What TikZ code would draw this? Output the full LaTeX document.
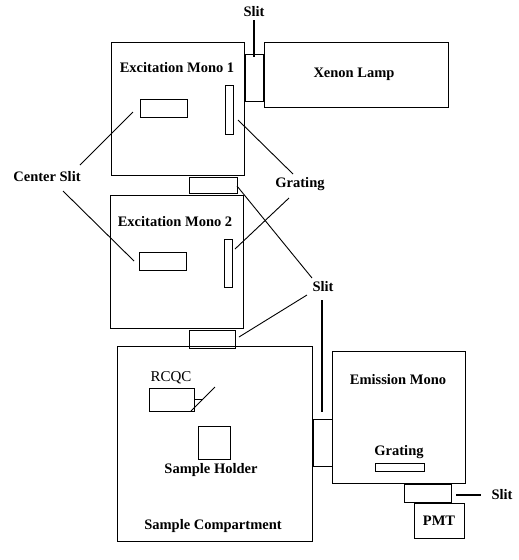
\documentclass[tikz,border=0pt]{standalone}
\usepackage{fontspec}
\setmainfont{Liberation Serif}
\begin{document}
\begin{tikzpicture}[x=1pt,y=-1pt,
                    box/.style={draw,rectangle,inner sep=0pt,line width=0.9pt},
                    lbl/.style={font=\bfseries\fontsize{14.5}{16}\selectfont,inner sep=0pt},
                    lead/.style={line width=0.9pt},
                    heavy lead/.style={line width=1.8pt}]
  \fill[white] (0,0) rectangle (519,560);
  \useasboundingbox (0,0) rectangle (519,560);
  %excitation side%
  \node[box,minimum width=133,minimum height=133] (mono1) at (177.5,108.5) {};
  \node[box,minimum width=184,minimum height=65] (lamp) at (356,74.5) {};
  \node[box,minimum width=18,minimum height=47] (slitA) at (254,77.5) {};
  \node[box,minimum width=47,minimum height=18] (cs1) at (163.5,108) {};
  \node[box,minimum width=8,minimum height=49] (gr1) at (229,109.5) {};
  \node[box,minimum width=48,minimum height=16] (slitB) at (213,185) {};
  \node[box,minimum width=133,minimum height=133] (mono2) at (176.5,261.5) {};
  \node[box,minimum width=47,minimum height=18] (cs2) at (162.5,261) {};
  \node[box,minimum width=8,minimum height=48] (gr2) at (228,263) {};
  \node[box,minimum width=46,minimum height=18] (slitC) at (212,339) {};
  %sample and emission side%
  \node[box,minimum width=195,minimum height=195] (sample) at (214.5,443.5) {};
  \node[box,minimum width=45,minimum height=23] (rcqc) at (171.5,399.5) {};
  \node[box,minimum width=32,minimum height=33] (holder) at (214,442.5) {};
  \node[box,minimum width=19,minimum height=47] (slitD) at (322.5,442.5) {};
  \node[box,minimum width=133,minimum height=132] (emis) at (398.5,417) {};
  \node[box,minimum width=49,minimum height=8] (gr3) at (399.5,467) {};
  \node[box,minimum width=47,minimum height=18] (slitE) at (427.5,493) {};
  \node[box,lbl,minimum width=50,minimum height=35] (pmt) at (439,520.5) {PMT};

  %labels%
  \node[lbl] (t1) at (254,12) {Slit};
  \node[lbl] (t2) at (177,68) {Excitation Mono 1};
  \node[lbl] (t3) at (354,74) {Xenon Lamp};
  \node[lbl] (t4) at (47,177) {Center Slit};
  \node[lbl] (t5) at (300,184) {Grating};
  \node[lbl] (t6) at (175,222) {Excitation Mono 2};
  \node[lbl] (t7) at (323,287) {Slit};
  \node[inner sep=0pt,font=\fontsize{15}{16}\selectfont] (t8) at (171,378) {RCQC};
  \node[lbl] (t9) at (398,380) {Emission Mono};
  \node[lbl] (t10) at (211,470) {Sample Holder};
  \node[lbl] (t11) at (399,452) {Grating};
  \node[lbl] (t12) at (502,495) {Slit};
  \node[lbl] (t13) at (213,526) {Sample Compartment};

  %leader ends%
  \coordinate (c1) at (80,165);   \coordinate (c2) at (133,112);
  \coordinate (c3) at (63,191);   \coordinate (c4) at (134,261);
  \coordinate (c5) at (238,120);  \coordinate (c6) at (293,174);
  \coordinate (c7) at (235,249);  \coordinate (c8) at (289,198);
  \coordinate (c9) at (237,186);  \coordinate (c10) at (312,278);
  \coordinate (c11) at (307,295); \coordinate (c12) at (239,337);
  \coordinate (c13) at (322,300); \coordinate (c14) at (322,412);
  \coordinate (c15) at (191,411); \coordinate (c16) at (215,387);
  \coordinate (c17) at (194,399); \coordinate (c18) at (203,399);
  \coordinate (c19) at (456,495); \coordinate (c20) at (481,495);

  \draw[heavy lead] (t1.south) ++(0,3) -- ([yshift=-3pt]slitA.north);
  \path[lead]
    (c1) edge (c2)
    (c3) edge (c4)
    (c5) edge (c6)
    (c7) edge (c8)
    (c9) edge (c10)
    (c11) edge (c12)
    (c15) edge (c16)
    (c17) edge (c18);
  \path[heavy lead]
    (c13) edge (c14)
    (c19) edge (c20);
\end{tikzpicture}
\end{document}
